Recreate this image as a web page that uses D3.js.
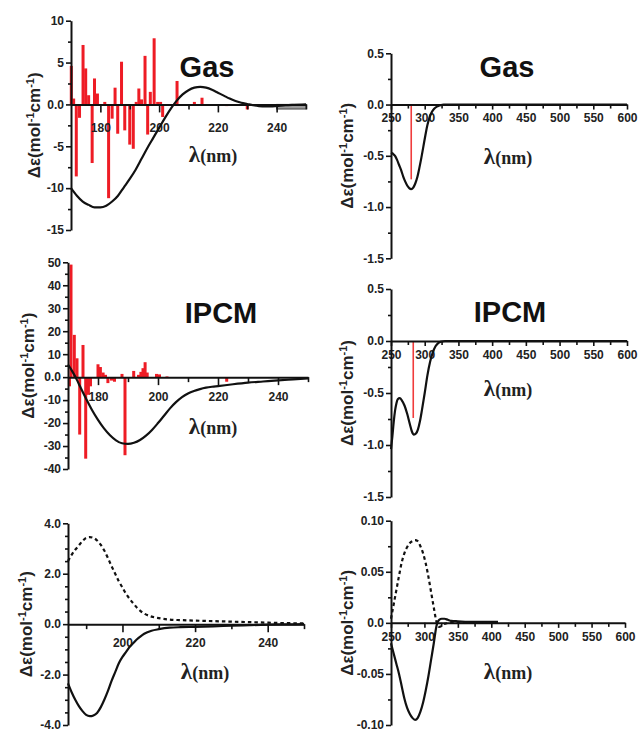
<!DOCTYPE html>
<html><head><meta charset="utf-8">
<script src="https://cdn.jsdelivr.net/npm/d3@7"></script>
<style>body{margin:0;background:#fff} svg{display:block}</style>
</head><body>
<svg id="c" width="638" height="730"></svg>
<script>
// ---------- DATA ----------
// Panel A: Gas, 170-250 nm
const gasShortCurve = [[170,-10.0],[172,-10.9],[174,-11.6],[176,-12.0],[178,-12.3],[180,-12.3],[182,-12.1],[184,-11.6],[186,-10.9],[188,-9.9],[190,-8.9],[192,-7.8],[194,-6.5],[196,-5.2],[198,-4.0],[200,-2.8],[202,-1.6],[204,-0.5],[206,0.45],[208,1.2],[210,1.7],[212,2.0],[214,2.1],[216,2.0],[218,1.75],[220,1.4],[222,1.05],[224,0.7],[226,0.4],[228,0.2],[230,0.05],[232,-0.1],[234,-0.2],[236,-0.25],[238,-0.25],[240,-0.2],[243,-0.1],[246,-0.05],[250,0]];
const gasShortBars = [[170.1,4.6],[170.9,0.7],[171.8,-8.6],[172.9,-1.6],[174.1,7.1],[175.0,4.3],[176.0,1.1],[177.2,-7.0],[178.0,3.1],[179.0,1.3],[181.5,0.3],[182.8,-11.2],[184.0,-1.7],[185.0,2.0],[185.9,-3.5],[187.2,5.1],[188.3,-3.1],[190.0,-4.8],[191.2,-5.3],[192.2,0.3],[193.1,1.9],[194.0,0.6],[195.2,5.8],[196.1,-3.6],[197.0,1.5],[198.3,7.9],[199.5,0.3],[200.5,0.3],[201.2,-1.5],[206.1,2.8],[212.0,0.3],[214.6,0.8],[223.0,-0.2],[230.0,-0.6]];
const gasShortBand = [[240,250,-0.55]];
// Panel B: Gas, 250-600 nm
const gasLongCurve = [[250,-0.47],[253,-0.48],[256,-0.5],[259,-0.54],[262,-0.59],[265,-0.64],[268,-0.7],[271,-0.75],[274,-0.79],[277,-0.815],[280,-0.825],[283,-0.81],[286,-0.77],[289,-0.71],[292,-0.62],[295,-0.52],[298,-0.41],[301,-0.3],[304,-0.2],[307,-0.13],[310,-0.08],[314,-0.04],[318,-0.02],[322,-0.01],[328,0],[600,0]];
const gasLongBars = [[280,-0.73]];
// Panel C: IPCM, 170-250 nm
const ipcmShortCurve = [[170,5.5],[171,3.5],[172,1.2],[173,-1.3],[174,-4.0],[176,-9.3],[178,-14.3],[180,-18.6],[182,-22.3],[184,-25.3],[186,-27.5],[188,-28.8],[190,-29.1],[192,-28.6],[194,-27.4],[196,-25.5],[198,-23.0],[200,-20.0],[202,-16.8],[204,-13.6],[206,-10.9],[208,-8.7],[210,-7.1],[212,-6.0],[214,-5.2],[216,-4.6],[218,-4.2],[220,-3.9],[225,-3.1],[230,-2.4],[235,-1.9],[240,-1.4],[245,-1.0],[250,-0.6]];
const ipcmShortBars = [[170.5,-4],[171.0,49],[172.1,18.4],[173.0,8.2],[173.9,-25],[175.0,14],[175.9,-35.5],[176.8,-7.7],[177.5,-4],[180.0,5.6],[180.8,4.4],[181.7,2],[182.5,1],[183.3,-2.6],[184.5,-1.5],[185.5,-2],[188.0,1.4],[189.0,-34],[191.9,2.7],[193.5,1],[194.3,2.3],[195.0,3.9],[195.7,6.5],[196.4,2],[199.5,1.4],[200.5,1.2],[203.0,0.3],[222.9,-2]];
// Panel D: IPCM, 250-600 nm
const ipcmLongCurve = [[250,-1.04],[252,-0.92],[254,-0.78],[256,-0.67],[258,-0.6],[260,-0.56],[263,-0.55],[266,-0.57],[270,-0.62],[274,-0.7],[278,-0.8],[281,-0.87],[284,-0.9],[287,-0.89],[290,-0.85],[293,-0.77],[296,-0.66],[300,-0.5],[304,-0.33],[308,-0.2],[312,-0.11],[316,-0.05],[320,-0.02],[325,-0.005],[330,0],[600,0]];
const ipcmLongBars = [[283,-0.74]];
// Panel E: experimental, 185-250 nm (solid and dashed)
const expShortSolid = [[185,-2.35],[186,-2.7],[187,-3.0],[188,-3.25],[189,-3.45],[190,-3.6],[191,-3.65],[192,-3.62],[193,-3.52],[194,-3.3],[195,-3.0],[196,-2.65],[197,-2.25],[198,-1.9],[199,-1.55],[200,-1.3],[201,-1.1],[202,-0.9],[203,-0.75],[204,-0.6],[205,-0.48],[206,-0.38],[208,-0.26],[210,-0.2],[213,-0.14],[216,-0.12],[220,-0.11],[225,-0.09],[230,-0.06],[235,-0.04],[240,-0.02],[245,-0.01],[250,0]];
const expShortDashed = [[185,2.5],[186,2.75],[187,2.95],[188,3.12],[189,3.3],[190,3.42],[191,3.45],[192,3.42],[193,3.32],[194,3.15],[195,2.92],[196,2.62],[197,2.3],[198,2.0],[199,1.7],[200,1.45],[201,1.2],[202,1.0],[203,0.82],[204,0.65],[205,0.52],[206,0.42],[208,0.3],[210,0.24],[213,0.18],[216,0.16],[220,0.14],[225,0.12],[230,0.1],[235,0.08],[240,0.06],[245,0.04],[250,0.03]];
// Panel F: experimental, 250-600 nm
const expLongSolid = [[250,-0.02],[254,-0.03],[258,-0.04],[262,-0.05],[266,-0.062],[270,-0.074],[274,-0.083],[278,-0.089],[282,-0.093],[286,-0.095],[290,-0.093],[294,-0.087],[298,-0.078],[302,-0.066],[306,-0.052],[310,-0.036],[314,-0.02],[318,-0.003],[322,0.003],[326,0.004],[330,0.004],[335,0.003],[340,0.002],[350,0.0015],[370,0.001],[390,0.001],[410,0.001]];
const expLongDashed = [[250,0.004],[254,0.018],[258,0.032],[262,0.046],[266,0.059],[270,0.068],[274,0.074],[278,0.078],[282,0.08],[286,0.081],[290,0.08],[294,0.075],[298,0.068],[302,0.058],[306,0.045],[310,0.03],[314,0.015],[318,0.001],[322,-0.004],[326,-0.003],[330,-0.001],[340,0],[410,0]];

// Tick values / labels
const xTicksShort = [180,200,220,240];
const xTicksExpShort = [200,220,240];
const xTicksLong = [250,300,350,400,450,500,550,600];
const yTicksA = [-15,-10,-5,0,5,10];
const yTicksB = [-1.5,-1.0,-0.5,0,0.5];
const yTicksC = [-40,-30,-20,-10,0,10,20,30,40,50];
const yTicksE = [-4,-2,0,2,4];
const yTicksF = [-0.1,-0.05,0,0.05,0.1];
const titles = ["Gas","Gas","IPCM","IPCM","",""];

// ---------- DRAW ----------
const svg = d3.select("#c");
const fmtInt = v => v === 0 ? "0.0" : String(v);
const fmt1 = v => v.toFixed(1);
const fmt2 = v => v === 0 ? "0.0" : v.toFixed(2);

const panels = [
 {xd:[170,250], xr:[71,306], yd:[-15,10], yr:[230,20.7], xt:xTicksShort, xm:d3.range(190,251,20), yt:yTicksA, ym:d3.range(-12.5,10,5), yf:fmtInt, xpad:11,
  curves:[{d:gasShortCurve}], bars:gasShortBars, band:gasShortBand, bw:3, title:titles[0], tx:207, ty:77, ylx:34, lx:213, ly:162},
 {xd:[250,600], xr:[391,627], yd:[-1.5,0.5], yr:[258.3,53.3], xt:xTicksLong, xm:d3.range(275,600,50), yt:yTicksB, ym:d3.range(-1.25,0.5,0.5), yf:fmt1, xpad:4, long:true,
  curves:[{d:gasLongCurve}], bars:gasLongBars, bw:1.6, barColor:"#f03c3c", title:titles[1], tx:507, ty:77, ylx:347, lx:508, ly:164},
 {xd:[170,250], xr:[68,308], yd:[-40,50], yr:[469,262.3], xt:xTicksShort, xm:d3.range(190,251,20), yt:yTicksC, ym:d3.range(-35,50,10), yf:fmtInt, xpad:7,
  curves:[{d:ipcmShortCurve}], bars:ipcmShortBars, bw:3, title:titles[2], tx:221, ty:323, ylx:28, lx:213, ly:434},
 {xd:[250,600], xr:[391,627], yd:[-1.5,0.5], yr:[497,289], xt:xTicksLong, xm:d3.range(275,600,50), yt:yTicksB, ym:d3.range(-1.25,0.5,0.5), yf:fmt1, xpad:4, long:true,
  curves:[{d:ipcmLongCurve}], bars:ipcmLongBars, bw:1.6, barColor:"#f03c3c", title:titles[3], tx:510, ty:322, ylx:347, lx:508, ly:396},
 {xd:[185,250], xr:[68,304], yd:[-4,4], yr:[725,523.3], xt:xTicksExpShort, xm:d3.range(190,251,20), yt:yTicksE, ym:d3.range(-3.5,4,0.5).filter(v=>Math.abs(v%2)>1e-9), yf:fmt1, xpad:6,
  curves:[{d:expShortSolid},{d:expShortDashed,dash:true}], bars:[], title:"", ylx:26, lx:205, ly:679},
 {xd:[250,600], xr:[391,625], yd:[-0.1,0.1], yr:[725,520.7], xt:xTicksLong, xm:d3.range(275,600,50), yt:yTicksF, ym:[-0.075,-0.025,0.025,0.075], yf:fmt2, xpad:5, long:true,
  curves:[{d:expLongSolid},{d:expLongDashed,dash:true}], bars:[], title:"", ylx:347, lx:508, ly:679}
];

panels.forEach(p => {
  const g = svg.append("g");
  const x = d3.scaleLinear().domain(p.xd).range(p.xr);
  const y = d3.scaleLinear().domain(p.yd).range(p.yr);
  const y0 = y(0);

  // bars
  g.selectAll("rect.bar").data(p.bars).join("rect")
    .attr("x", d => x(d[0]) - p.bw/2).attr("width", p.bw)
    .attr("y", d => Math.min(y(d[1]), y0)).attr("height", d => Math.abs(y(d[1]) - y0))
    .attr("fill", p.barColor || "#ee1c25");

  // gray band
  if (p.band) {
    g.selectAll("rect.band").data(p.band).join("rect")
      .attr("x", d => x(d[0])).attr("width", d => x(d[1]) - x(d[0]))
      .attr("y", y0).attr("height", d => y(d[2]) - y0)
      .attr("fill", "#9a9a9a").attr("stroke", "#444").attr("stroke-width", 1);
  }

  // x axis
  const xa = g.append("g").attr("transform", `translate(0,${y0})`);
  xa.call(d3.axisBottom(x).tickValues(p.xt).tickSizeInner(p.long?5:8).tickSizeOuter(0).tickPadding(p.xpad).tickFormat(d => String(d)));
  const xm = g.append("g").attr("transform", `translate(0,${y0})`);
  xm.call(d3.axisBottom(x).tickValues(p.xm).tickSizeInner(p.long?4:5).tickSizeOuter(0).tickFormat(""));
  xm.select(".domain").remove();

  // y axis
  const ya = g.append("g").attr("transform", `translate(${p.xr[0]},0)`);
  ya.call(d3.axisLeft(y).tickValues(p.yt).tickSizeInner(5).tickSizeOuter(0).tickPadding(2).tickFormat(p.yf));
  const ym = g.append("g").attr("transform", `translate(${p.xr[0]},0)`);
  ym.call(d3.axisLeft(y).tickValues(p.ym).tickSizeInner(3).tickSizeOuter(0).tickFormat(""));
  ym.select(".domain").remove();

  g.selectAll(".domain").attr("stroke", "#111").attr("stroke-width", 2);
  g.selectAll(".tick line").attr("stroke", "#111").attr("stroke-width", 1.6);
  g.selectAll(".tick text").attr("font-family", "Arial, 'Liberation Sans', sans-serif")
    .attr("font-weight", "bold").attr("font-size", 12).attr("fill", "#222");

  // curves
  const line = d3.line().x(d => x(d[0])).y(d => y(d[1])).curve(d3.curveMonotoneX);
  p.curves.forEach(c => {
    g.append("path").datum(c.d).attr("d", line).attr("fill", "none")
      .attr("stroke", "#111").attr("stroke-width", 2.2)
      .attr("stroke-dasharray", c.dash ? "3.5,3" : null);
  });

  // title
  if (p.title) {
    g.append("text").attr("x", p.tx).attr("y", p.ty).attr("text-anchor", "middle")
      .attr("font-family", "Arial, 'Liberation Sans', sans-serif").attr("font-weight", "bold")
      .attr("font-size", 29).attr("fill", "#111").text(p.title);
  }

  // y label
  const cy = (p.yr[0] + p.yr[1]) / 2;
  const yl = g.append("text").attr("transform", `translate(${p.ylx + 6},${cy}) rotate(-90)`)
    .attr("text-anchor", "middle").attr("font-family", "Arial, 'Liberation Sans', sans-serif")
    .attr("font-weight", "bold").attr("font-size", 17).attr("fill", "#222");
  yl.append("tspan").text("Δε(mol");
  yl.append("tspan").attr("dy", -6).attr("font-size", 11).text("-1");
  yl.append("tspan").attr("dy", 6).text("cm");
  yl.append("tspan").attr("dy", -6).attr("font-size", 11).text("-1");
  yl.append("tspan").attr("dy", 6).text(")");

  // x label
  const xl = g.append("text").attr("x", p.lx).attr("y", p.ly).attr("text-anchor", "middle")
    .attr("font-family", "'Liberation Serif', 'Times New Roman', serif").attr("font-weight", "bold").attr("fill", "#222");
  xl.append("tspan").attr("font-size", 23).text("λ");
  xl.append("tspan").attr("font-size", 18).text("(nm)");
});
</script>
</body></html>
